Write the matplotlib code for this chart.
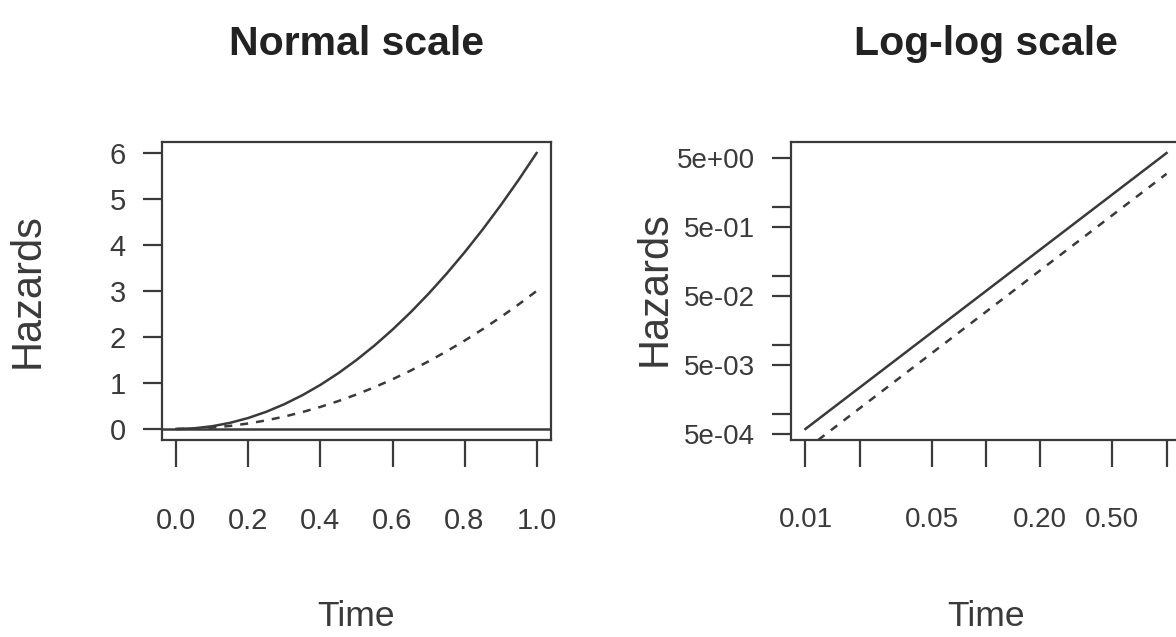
import matplotlib
matplotlib.use('Agg')
import matplotlib.pyplot as plt
import numpy as np
from matplotlib.ticker import FixedLocator, NullLocator

NARROW = ['Liberation Sans Narrow', 'Liberation Sans', 'DejaVu Sans']
REGULAR = ['Liberation Sans', 'DejaVu Sans']
INK = '#3a3a3a'

# normal scale panel
time = [0.0, 0.05, 0.10, 0.15, 0.20, 0.25, 0.30, 0.35, 0.40, 0.45, 0.50,
        0.55, 0.60, 0.65, 0.70, 0.75, 0.80, 0.85, 0.90, 0.95, 1.0]
haz_solid = [0.0, 0.015, 0.06, 0.135, 0.24, 0.375, 0.54, 0.735, 0.96, 1.215, 1.5,
             1.815, 2.16, 2.535, 2.94, 3.375, 3.84, 4.335, 4.86, 5.415, 6.0]
haz_dashed = [0.0, 0.0075, 0.03, 0.0675, 0.12, 0.1875, 0.27, 0.3675, 0.48, 0.6075, 0.75,
              0.9075, 1.08, 1.2675, 1.47, 1.6875, 1.92, 2.1675, 2.43, 2.7075, 3.0]

# log-log panel
time_log = [0.01, 0.02, 0.05, 0.10, 0.20, 0.50, 1.0]
haz_solid_log = [0.0006, 0.0024, 0.015, 0.06, 0.24, 1.5, 6.0]
haz_dashed_log = [0.0003, 0.0012, 0.0075, 0.03, 0.12, 0.75, 3.0]

lin_xticks = [0.0, 0.2, 0.4, 0.6, 0.8, 1.0]
lin_xlabels = ['0.0', '0.2', '0.4', '0.6', '0.8', '1.0']
lin_yticks = [0, 1, 2, 3, 4, 5, 6]
log_xticks = [0.01, 0.02, 0.05, 0.10, 0.20, 0.50, 1.00]
log_xlabels = ['0.01', '', '0.05', '', '0.20', '0.50', '']
log_yticks = [5e-04, 1e-03, 5e-03, 1e-02, 5e-02, 1e-01, 5e-01, 1e+00, 5e+00]
log_ylabels = ['5e-04', '', '5e-03', '', '5e-02', '', '5e-01', '', '5e+00']


def r_lims(vals, log=False):
    # R style 4% expansion of the data range
    v = np.asarray(vals, dtype=float)
    if log:
        lo, hi = np.log10(v.min()), np.log10(v.max())
        d = 0.04 * (hi - lo)
        return 10 ** (lo - d), 10 ** (hi + d)
    lo, hi = v.min(), v.max()
    d = 0.04 * (hi - lo)
    return lo - d, hi + d


def style(ax, fs):
    for s in ax.spines.values():
        s.set_linewidth(1.6)
        s.set_color(INK)
    ax.tick_params(axis='x', length=19.5, width=1.6, color=INK, pad=28.5,
                   labelsize=fs, labelcolor=INK)
    ax.tick_params(axis='y', length=14, width=1.6, color=INK, pad=12,
                   labelsize=fs, labelcolor=INK)
    for t in ax.get_xticklabels() + ax.get_yticklabels():
        t.set_family(NARROW)


fig = plt.figure(figsize=(11.76, 6.37), dpi=100)
W, H = 1176, 637

ax1 = fig.add_axes([162 / W, (H - 440) / H, 389 / W, 298 / H])
ax1.plot(time, haz_solid, color=INK, lw=1.8)
ax1.plot(time, haz_dashed, color=INK, lw=1.8, linestyle=(0, (3.2, 3.2)))
ax1.axhline(0, color=INK, lw=1.8)
ax1.set_xlim(r_lims(time))
ax1.set_ylim(r_lims(haz_solid))
ax1.set_xticks(lin_xticks)
ax1.set_xticklabels(lin_xlabels)
ax1.set_yticks(lin_yticks)
ax1.set_yticklabels([str(v) for v in lin_yticks])
style(ax1, 21)

ax2 = fig.add_axes([791 / W, (H - 440) / H, 390 / W, 298 / H])
ax2.plot(time_log, haz_solid_log, color=INK, lw=1.8)
ax2.plot(time_log, haz_dashed_log, color=INK, lw=1.8, linestyle=(0, (3.2, 3.2)))
ax2.set_xscale('log')
ax2.set_yscale('log')
ax2.set_xlim(r_lims(time_log, log=True))
ax2.set_ylim(r_lims(haz_solid_log, log=True))
ax2.xaxis.set_major_locator(FixedLocator(log_xticks))
ax2.xaxis.set_minor_locator(NullLocator())
ax2.yaxis.set_major_locator(FixedLocator(log_yticks))
ax2.yaxis.set_minor_locator(NullLocator())
ax2.set_xticklabels(log_xlabels)
ax2.set_yticklabels(log_ylabels)
style(ax2, 20)

for ax, title in [(ax1, 'Normal scale'), (ax2, 'Log-log scale')]:
    ax.set_title(title, family=NARROW, fontweight='bold', fontsize=29.5,
                 color='#222222', pad=0, y=(440 - 55) / 298, va='baseline')
    ax.text(0.5, (440 - 600) / 298, 'Time', transform=ax.transAxes,
            ha='center', va='top', family=NARROW, fontsize=25.5, color=INK)

fig.text(28 / W, (H - 291) / H, 'Hazards', rotation=90, ha='center', va='center',
         family=REGULAR, fontsize=30, color=INK)
fig.text(655 / W, (H - 289) / H, 'Hazards', rotation=90, ha='center', va='center',
         family=REGULAR, fontsize=30, color=INK)

fig.savefig('out.png', dpi=100)
